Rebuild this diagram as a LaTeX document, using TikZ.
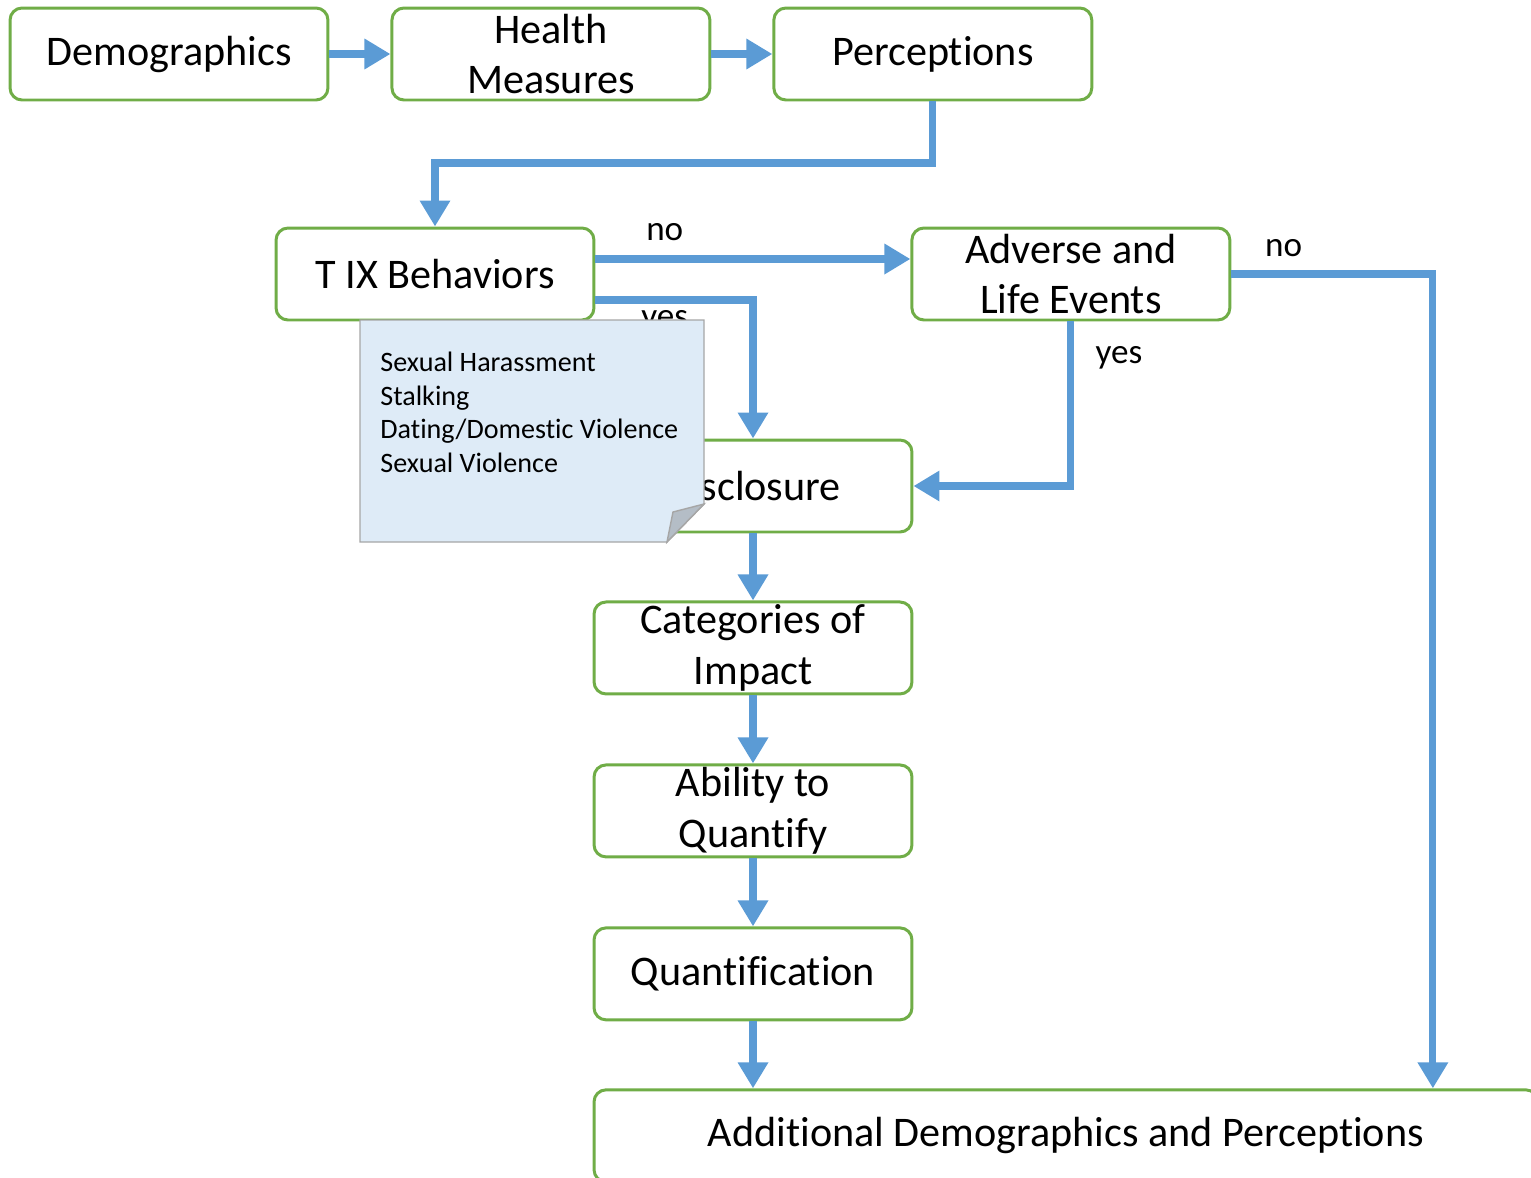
\documentclass[tikz,border=0pt]{standalone}
\usepackage{fontspec}
\setmainfont{Carlito}[Ligatures=NoCommon]
\usetikzlibrary{arrows.meta}
\usetikzlibrary{positioning}

\definecolor{boxgreen}{HTML}{70AD47}
\definecolor{flowblue}{HTML}{5B9BD5}
\definecolor{notefill}{HTML}{DEEBF7}
\definecolor{noteedge}{HTML}{A6A6A6}
\definecolor{notefold}{HTML}{B4BDC6}

\tikzset{
  box/.style={draw=boxgreen, line width=1.7pt, rounded corners=0.24cm, fill=white,
    minimum width=6.36cm, minimum height=1.84cm, inner sep=0pt, align=center,
    font=\fontsize{24}{29}\selectfont},
  flow/.style={-{Triangle[length=0.52cm, width=0.58cm]}, draw=flowblue, line width=4pt},
  answer/.style={font=\fontsize{20}{24}\selectfont},
  notetext/.style={inner sep=0pt, align=left, anchor=north west, font=\fontsize{16}{19}\selectfont}
}

\begin{document}
\begin{tikzpicture}[x=0.02cm, y=-0.02cm]

\useasboundingbox (0,0) rectangle (1531,1177);
\clip (0,0) rectangle (1531,1177);

\node[box] (demo) at (169,54) {Demographics};
\node[box, right = 1.22cm of demo] (health) {Health\\Measures};
\node[box, right = 1.22cm of health] (perc) {Perceptions};

\node[box] (tix) at (435,274) {T IX Behaviors};
\node[box, right = 6.30cm of tix] (adv) {Adverse and\\Life Events};

\node[box] (disc) at (753,486) {Disclosure};
\node[box, below = 1.34cm of disc] (cat) {Categories of\\Impact};
\node[box, below = 1.36cm of cat] (abil) {Ability to\\Quantify};
\node[box, below = 1.36cm of abil] (quant) {Quantification};
\node[box, minimum width=18.88cm, anchor=north west] (addl) at ([yshift=-1.34cm]quant.south west) {Additional Demographics and Perceptions};

\draw[flow] (demo) -- (health);
\draw[flow] (health) -- (perc);
\draw[flow] (perc.south) -- (perc.south |- 0,163) -| (tix.north);

\draw[flow] ([yshift=0.3cm]tix.east) -- ([yshift=0.3cm]adv.west) node[answer, pos=0.22, yshift=0.54cm] {no};
\draw[flow] ([yshift=-0.52cm]tix.east) -| (disc.north) node[answer, pos=0.22, yshift=-0.44cm] {yes};
\draw[flow] (adv.south) |- (disc.east) node[answer, pos=0.11, xshift=0.96cm] {yes};
\draw[flow] (adv.east) -| ([xshift=7.34cm]addl.north) node[answer, pos=0.13, yshift=0.52cm] {no};

\draw[flow] (disc) -- (cat);
\draw[flow] (cat) -- (abil);
\draw[flow] (abil) -- (quant);
\draw[flow] (quant.south) -- (quant.south |- addl.north);

% note with the behaviors
\filldraw[fill=notefill, draw=noteedge, line width=0.8pt] (360,320) -- (704,320) -- (704,504) -- (667,542) -- (360,542) -- cycle;
\filldraw[fill=notefold, draw=noteedge, line width=0.8pt] (704,504) -- (673,512) -- (667,542) -- cycle;
\node[notetext] (kinds) at (380,352) {Sexual Harassment\\Stalking\\Dating/Domestic Violence\\Sexual Violence};

\end{tikzpicture}
\end{document}
